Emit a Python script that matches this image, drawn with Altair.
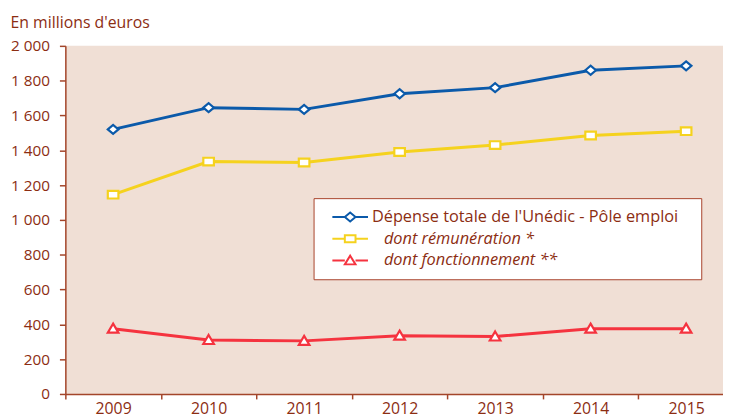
import altair as alt
import pandas as pd

years = ["2009", "2010", "2011", "2012", "2013", "2014", "2015"]
total = [1520, 1645, 1635, 1725, 1760, 1860, 1885]
remuneration = [1145, 1335, 1330, 1390, 1430, 1485, 1510]
fonctionnement = [375, 310, 305, 335, 330, 375, 375]

series_names = [
    "Dépense totale de l'Unédic - Pôle emploi\u2800",
    "\u2800dont rémunération *",
    "\u2800dont fonctionnement **",
]
series_values = [total, remuneration, fonctionnement]
colors = ["#0B5AAA", "#F5D21E", "#F5333F"]

marker_paths = [
    "M-1,0L0,-0.85L1,0L0,0.85Z",
    "M-1,-0.72H1V0.72H-1Z",
    "M0,-0.95L1,0.75L-1,0.75Z",
]
legend_paths = [
    "M-1,0L-0.3,0M0.3,0L1,0M-0.3,0L0,-0.25L0.3,0L0,0.25Z",
    "M-1,0L-0.3,0M0.3,0L1,0M-0.3,-0.2H0.3V0.2H-0.3Z",
    "M-1,0L-0.3,0M0.3,0L1,0M0,-0.27L0.3,0.22L-0.3,0.22Z",
]

rows = []
for name, vals in zip(series_names, series_values):
    for y, v in zip(years, vals):
        rows.append({"year": y, "series": name, "value": v})
df = pd.DataFrame(rows)

TXT = "#8C2D12"
AX = "#A3452A"
FONT = "Open Sans"

x = alt.X(
    "year:O",
    scale=alt.Scale(type="band", paddingInner=0, paddingOuter=0, range=[0, 676]),
    bandPosition=0.5,
    axis=alt.Axis(
        title=None, labelAngle=0, tickBand="extent", grid=False,
        domainColor=AX, tickColor=AX, labelColor=TXT, labelFont=FONT,
        labelFontSize=16, tickSize=5, labelPadding=2, domainWidth=1.5, tickWidth=1.5,
    ),
)
y = alt.Y(
    "value:Q",
    scale=alt.Scale(domain=[0, 2000], nice=False),
    axis=alt.Axis(
        values=list(range(0, 2001, 200)), grid=False,
        labelExpr="replace(format(datum.value, ','), ',', ' ')",
        domainColor=AX, tickColor=AX, labelColor=TXT, labelFont=FONT,
        labelFontSize=15.5, tickSize=6, labelPadding=10, domainWidth=1.5, tickWidth=1.5,
        title="En millions d'euros", titleAngle=0, titleAlign="left",
        titleBaseline="middle", titleX=-56, titleY=-24, titleFont=FONT,
        titleFontSize=16, titleFontWeight="normal", titleColor=TXT,
    ),
)

color_scale = alt.Scale(domain=series_names, range=colors)

lines = alt.Chart(df).mark_line(strokeWidth=3).encode(
    x=x, y=y, color=alt.Color("series:N", scale=color_scale, legend=None)
)
points = alt.Chart(df).mark_point(
    filled=False, fill="white", opacity=1, strokeWidth=2.2, size=115
).encode(
    x=x, y=y,
    color=alt.Color("series:N", scale=color_scale, legend=None),
    shape=alt.Shape("series:N", scale=alt.Scale(domain=series_names, range=marker_paths), legend=None),
)

legend = alt.Legend(
    title=None, orient="none", legendX=251, legendY=154,
    fillColor="white", strokeColor="#A8432A", padding=10,
    symbolSize=1296, symbolStrokeWidth=2, symbolFillColor="white", symbolOffset=8,
    clipHeight=18, rowPadding=4, labelOffset=3,
    labelFont=FONT, labelFontSize=16.5, labelColor=TXT, labelLimit=450,
    labelFontStyle={"expr": "indexof(datum.label, 'dont') >= 0 ? 'italic' : 'normal'"},
)
legend_layer = alt.Chart(df).transform_filter("false").mark_point(
    filled=False, fill="white", opacity=1, strokeWidth=2
).encode(
    x=x, y=y,
    color=alt.Color("series:N", scale=color_scale, legend=legend),
    shape=alt.Shape("series:N", scale=alt.Scale(domain=series_names, range=legend_paths), legend=legend),
)

chart = (
    alt.layer(lines, points, legend_layer)
    .resolve_scale(color="independent", shape="independent")
    .properties(
        width=665, height=352,
        autosize=alt.AutoSizeParams(type="none"),
        padding={"left": 58, "top": 36, "right": 0, "bottom": 20},
        background="white",
    )
    .configure_view(fill="#F0DFD5", stroke=None)
)

chart.save("out.html", embed_options={"renderer": "svg", "actions": False})
